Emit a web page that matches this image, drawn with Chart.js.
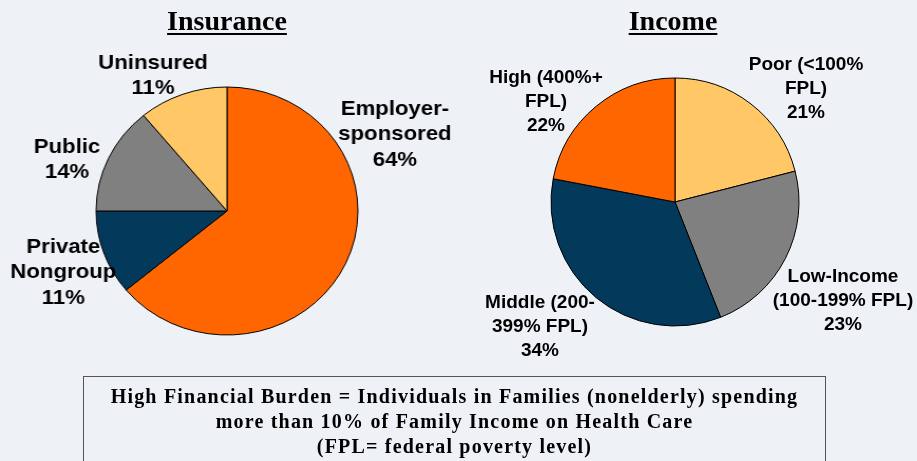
<!DOCTYPE html>
<html>
<head>
<meta charset="utf-8">
<script src="https://cdn.jsdelivr.net/npm/chart.js@4/dist/chart.umd.min.js"></script>
<style>
  html, body { margin:0; padding:0; background:#EEF2F6; }
  #wrap { position:relative; width:917px; height:461px; overflow:hidden; background:#EEF2F6; }
  canvas { position:absolute; top:0; }
  #c1 { left:0; transform:scaleX(1.056); transform-origin:227px 0; }
  #c2 { left:458px; }
  .title { position:absolute; top:7px; font:bold 28px "Liberation Serif", "Times New Roman", serif; line-height:28px;
           text-decoration:underline; text-decoration-thickness:2px; text-underline-offset:3px; color:#000;
           transform:translateX(-50%); white-space:nowrap; }
  #note { position:absolute; left:83px; top:376px; width:743px; height:110px; border:1.5px solid #555;
          box-sizing:border-box; text-align:center; font:bold 20px "Liberation Serif", "Times New Roman", serif;
          line-height:25px; padding-top:7px; color:#000; letter-spacing:1.2px; }
</style>
</head>
<body>
<div id="wrap">
  <canvas id="c1" width="458" height="461"></canvas>
  <canvas id="c2" width="459" height="461"></canvas>
  <div class="title" style="left:227px">Insurance</div>
  <div class="title" style="left:673px">Income</div>
  <div id="note">High Financial Burden = Individuals in Families (nonelderly) spending<br>more than 10% of Family Income on Health Care<br>(FPL= federal poverty level)</div>
</div>
<script>
// ---- data ----
const insuranceCategories = ['Employer-sponsored', 'Private Nongroup', 'Public', 'Uninsured'];
const insuranceValues = [64, 11, 14, 11];
const insuranceLabelLines = [['Employer-', 'sponsored'], ['Private', 'Nongroup'], ['Public'], ['Uninsured']];

const incomeCategories = ['Poor (<100% FPL)', 'Low-Income (100-199% FPL)', 'Middle (200-399% FPL)', 'High (400%+ FPL)'];
const incomeValues = [21, 23, 34, 22];
const incomeLabelLines = [['Poor (<100%', 'FPL)'], ['Low-Income', '(100-199% FPL)'], ['Middle (200-', '399% FPL)'], ['High (400%+', 'FPL)']];

// ---- styles ----
const sliceColorsInsurance = ['#FF6600', '#03395B', '#808080', '#FFC766'];
const sliceColorsIncome = ['#FFC766', '#808080', '#03395B', '#FF6600'];

const sliceLabels = {
  id: 'sliceLabels',
  afterDatasetsDraw(chart, args, opts) {
    const ctx = chart.ctx;
    const meta = chart.getDatasetMeta(0);
    const cx = meta.data[0].x, cy = meta.data[0].y;
    ctx.save();
    ctx.font = opts.font;
    ctx.fillStyle = '#000';
    ctx.textAlign = 'center';
    ctx.textBaseline = 'middle';
    chart.data.datasets[0].data.forEach((v, i) => {
      const lines = opts.lines[i].concat([v + '%']);
      const off = opts.offsets[i];
      lines.forEach((t, j) => ctx.fillText(t, cx + off[0], cy + off[1] + j * opts.lineHeight));
    });
    ctx.restore();
  }
};

function makePie(id, labels, values, colors, padding, labelOpts) {
  return new Chart(document.getElementById(id), {
    type: 'pie',
    data: { labels: labels, datasets: [{ data: values, backgroundColor: colors, borderColor: '#000', borderWidth: 1 }] },
    options: {
      responsive: false,
      devicePixelRatio: 1,
      animation: false,
      layout: { padding: padding },
      plugins: { legend: { display: false }, tooltip: { enabled: false }, sliceLabels: labelOpts }
    },
    plugins: [sliceLabels]
  });
}

makePie('c1', insuranceCategories, insuranceValues, sliceColorsInsurance,
  { left: 102.5, right: 106.5, top: 86.5, bottom: 125.5 },
  { font: 'bold 21px "Liberation Sans", Arial, sans-serif', lineHeight: 25.5, lines: insuranceLabelLines,
    offsets: [[159, -102], [-155, 36], [-151.5, -64], [-70, -148]] });

makePie('c2', incomeCategories, incomeValues, sliceColorsIncome,
  { left: 92.5, right: 117.5, top: 77.5, bottom: 134.5 },
  { font: 'bold 19px "Liberation Sans", Arial, sans-serif', lineHeight: 23.7, lines: incomeLabelLines,
    offsets: [[131, -137], [168, 75], [-135, 101], [-129, -124]] });
</script>
</body>
</html>
